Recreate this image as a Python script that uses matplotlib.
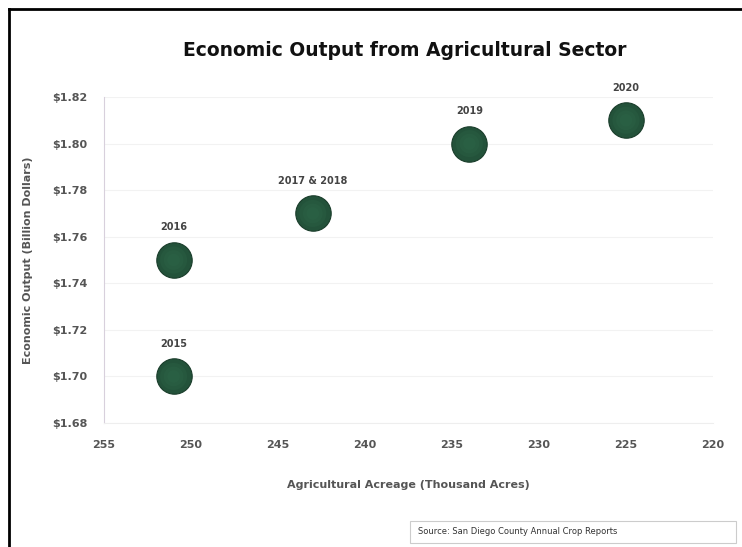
import matplotlib.pyplot as plt
from matplotlib.patches import Rectangle
from matplotlib.lines import Line2D

# values
acreage = [251, 251, 243, 234, 225]          # thousand acres
output = [1.70, 1.75, 1.77, 1.80, 1.81]      # billion dollars
labels = ["2015", "2016", "2017 & 2018", "2019", "2020"]

y_ticks = [1.68, 1.70, 1.72, 1.74, 1.76, 1.78, 1.80, 1.82]
x_ticks = [255, 250, 245, 240, 235, 230, 225, 220]

green = "#23523a"
grey = "#555555"

fig = plt.figure(figsize=(7.42, 5.47), dpi=100)
ax = fig.add_axes([104 / 742, 1 - 423 / 547, 609 / 742, 326 / 547])

ax.scatter(acreage, output, s=650, color=green, edgecolors="#1a3d2b",
           linewidths=0.8, zorder=3)
# soft highlight so the dots look a bit like spheres
for s, a in [(380, 0.25), (200, 0.25), (80, 0.25)]:
    ax.scatter(acreage, output, s=s, color="#2f6a4b", edgecolors="none",
               alpha=a, zorder=4)

for x, y, t in zip(acreage, output, labels):
    ax.annotate(t, (x, y), xytext=(0, 20), textcoords="offset points",
                ha="center", va="bottom", fontsize=7, fontweight="bold",
                color="#444444")

ax.set_xlim(255, 220)
ax.set_ylim(1.68, 1.82)
ax.set_xticks(x_ticks)
ax.set_yticks(y_ticks)
ax.set_xticklabels([str(v) for v in x_ticks])
ax.set_yticklabels([f"${v:.2f}" for v in y_ticks])
ax.tick_params(length=0, labelsize=8, colors=grey, pad=12)
for lab in ax.get_xticklabels() + ax.get_yticklabels():
    lab.set_fontweight("bold")

ax.grid(axis="y", color="#f2f2f2", linewidth=0.8)
ax.set_axisbelow(True)
for side in ["top", "right"]:
    ax.spines[side].set_visible(False)
ax.spines["left"].set_color("#d8d0dc")
ax.spines["bottom"].set_color("#eeeeee")

ax.set_xlabel("Agricultural Acreage (Thousand Acres)", fontsize=8,
              fontweight="bold", color=grey, labelpad=22)
ax.set_ylabel("Economic Output (Billion Dollars)", fontsize=8,
              fontweight="bold", color=grey, labelpad=14)

fig.text(405 / 742, 1 - 50 / 547, "Economic Output from Agricultural Sector",
         ha="center", va="center", fontsize=13.5, fontweight="heavy",
         color="#111111")

# source box
fig.patches.append(Rectangle((410 / 742, 1 - 543 / 547), 326 / 742, 22 / 547,
                             transform=fig.transFigure, facecolor="white",
                             edgecolor="#cccccc", linewidth=0.8))
fig.text(418 / 742, 1 - 532 / 547,
         "Source: San Diego County Annual Crop Reports",
         ha="left", va="center", fontsize=6, color="#333333")

# outer frame lines (top and left)
fig.lines.append(Line2D([9 / 742, 1], [1 - 9 / 547, 1 - 9 / 547],
                        transform=fig.transFigure, color="black", linewidth=2))
fig.lines.append(Line2D([9 / 742, 9 / 742], [0, 1 - 9 / 547],
                        transform=fig.transFigure, color="black", linewidth=2))

fig.savefig("out.png", dpi=100)
